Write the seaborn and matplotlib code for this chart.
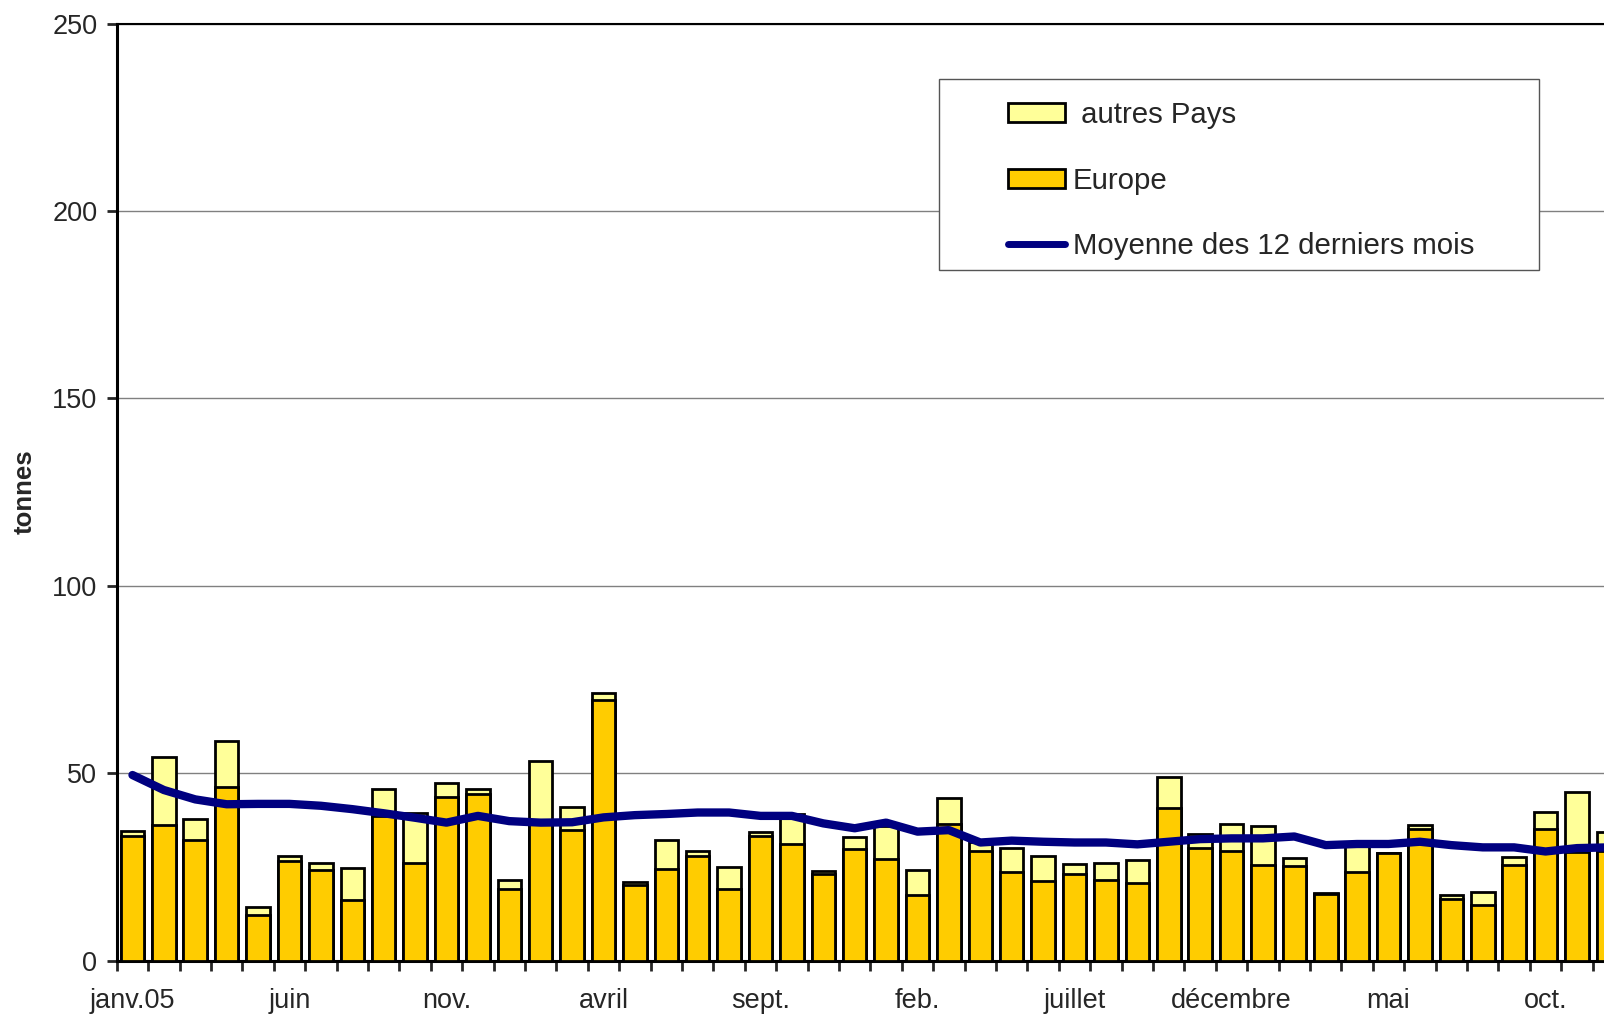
import numpy as np
import pandas as pd
import matplotlib
matplotlib.use('Agg')
import matplotlib.pyplot as plt
from matplotlib.patches import Patch, Rectangle
from matplotlib.lines import Line2D
import seaborn as sns

# monthly tonnages from janv.05
europe = [33.3, 36.3, 32.2, 46.3, 12.2, 26.6, 24.2, 16.2, 38.5, 26.1, 43.6, 44.4,
          19.1, 36.5, 34.8, 69.4, 20.1, 24.3, 27.9, 19.0, 33.1, 31.1, 23.1, 29.8,
          27.1, 17.5, 36.4, 29.1, 23.6, 21.3, 23.0, 21.5, 20.6, 40.6, 30.1, 29.1,
          25.5, 25.1, 17.8, 23.6, 28.8, 35.0, 16.3, 14.8, 25.5, 35.1, 29.0, 29.3]
autres_pays = [1.4, 18.1, 5.5, 12.4, 2.0, 1.3, 1.8, 8.4, 7.2, 13.4, 3.7, 1.4,
               2.4, 16.8, 6.2, 1.9, 0.9, 7.9, 1.2, 6.0, 1.2, 8.0, 0.7, 3.2,
               8.9, 6.7, 7.1, 2.4, 6.4, 6.6, 2.7, 4.6, 6.2, 8.3, 3.7, 7.3,
               10.4, 2.2, 0.2, 8.0, 0.0, 1.1, 1.2, 3.4, 2.0, 4.6, 16.1, 5.1]
moyenne_12 = [49.5, 45.5, 43.0, 41.7, 41.8, 41.8, 41.3, 40.4, 39.3, 38.1, 36.8, 38.6,
              37.2, 36.8, 36.9, 38.2, 38.8, 39.1, 39.5, 39.5, 38.6, 38.6, 36.6, 35.3,
              36.8, 34.4, 34.8, 31.5, 32.0, 31.7, 31.5, 31.5, 31.0, 31.7, 32.4, 32.6,
              32.6, 33.1, 30.8, 31.1, 31.1, 31.7, 30.8, 30.2, 30.2, 29.1, 30.0, 30.2]
tick_labels = ['janv.05', 'juin', 'nov.', 'avril', 'sept.', 'feb.',
               'juillet', 'décembre', 'mai', 'oct.']

n = len(europe)
df = pd.DataFrame({'mois': np.arange(n), 'europe': europe,
                   'total': np.array(europe) + np.array(autres_pays),
                   'moyenne': moyenne_12})

c_autres = '#FFFF99'
c_europe = '#FFCC00'
c_line = '#000080'

sns.set_style('white')
plt.rcParams['font.family'] = ['Liberation Sans', 'DejaVu Sans']

fig = plt.figure(figsize=(16.04, 10.14), dpi=100)
ax = fig.add_axes([0.0728, 0.0527, 0.9397, 0.9241])

sns.barplot(data=df, x='mois', y='total', color=c_autres, saturation=1, width=0.75,
            edgecolor='black', linewidth=2, ax=ax, zorder=2)
sns.barplot(data=df, x='mois', y='europe', color=c_europe, saturation=1, width=0.75,
            edgecolor='black', linewidth=2, ax=ax, zorder=3)
sns.lineplot(data=df, x='mois', y='moyenne', color=c_line, linewidth=6, ax=ax, zorder=4,
             solid_capstyle='round', solid_joinstyle='round')

ax.set_xlim(-0.5, n - 0.5)
ax.set_ylim(0, 250)
ax.set_yticks(range(0, 251, 50))
ax.yaxis.grid(True, color='#808080', linewidth=1, zorder=0)
ax.set_axisbelow(True)

ax.set_xticks(np.arange(0, n, 5))
ax.set_xticklabels(tick_labels)
ax.set_xticks(np.arange(n + 1) - 0.5, minor=True)
ax.tick_params(axis='x', which='major', length=0, pad=20, labelsize=19.5)
ax.tick_params(axis='x', which='minor', length=7, width=2, direction='out', bottom=True)
ax.tick_params(axis='y', length=7, width=2, direction='out', left=True, pad=7, labelsize=19.5)

ax.set_xlabel('')
ax.set_ylabel('tonnes', fontsize=18.5, fontweight='bold')
ax.yaxis.set_label_coords(-0.053, 0.5)

for side in ['left', 'bottom', 'top']:
    ax.spines[side].set_visible(True)
    ax.spines[side].set_color('black')
ax.spines['left'].set_linewidth(2.2)
ax.spines['bottom'].set_linewidth(2.2)
ax.spines['top'].set_linewidth(1.5)
ax.spines['right'].set_visible(False)

# legend box
fig.patches.append(Rectangle((939 / 1604, 1 - 270 / 1014), 600 / 1604, 191 / 1014,
                             transform=fig.transFigure, facecolor='white',
                             edgecolor='#555555', linewidth=1, zorder=5))
handles = [Patch(facecolor=c_autres, edgecolor='black', linewidth=2),
           Patch(facecolor=c_europe, edgecolor='black', linewidth=2),
           Line2D([], [], color=c_line, linewidth=5, solid_capstyle='round')]
labels = [' autres Pays', 'Europe', 'Moyenne des 12 derniers mois']
leg = fig.legend(handles, labels, loc='upper left', bbox_to_anchor=(1008 / 1604, 1 - 101 / 1014),
                 bbox_transform=fig.transFigure, frameon=False, fontsize=21.2,
                 handlelength=1.95, handleheight=0.65, handletextpad=0.25,
                 labelspacing=1.28, borderpad=0, borderaxespad=0)
leg.set_zorder(6)

fig.savefig('out.png', dpi=100)
